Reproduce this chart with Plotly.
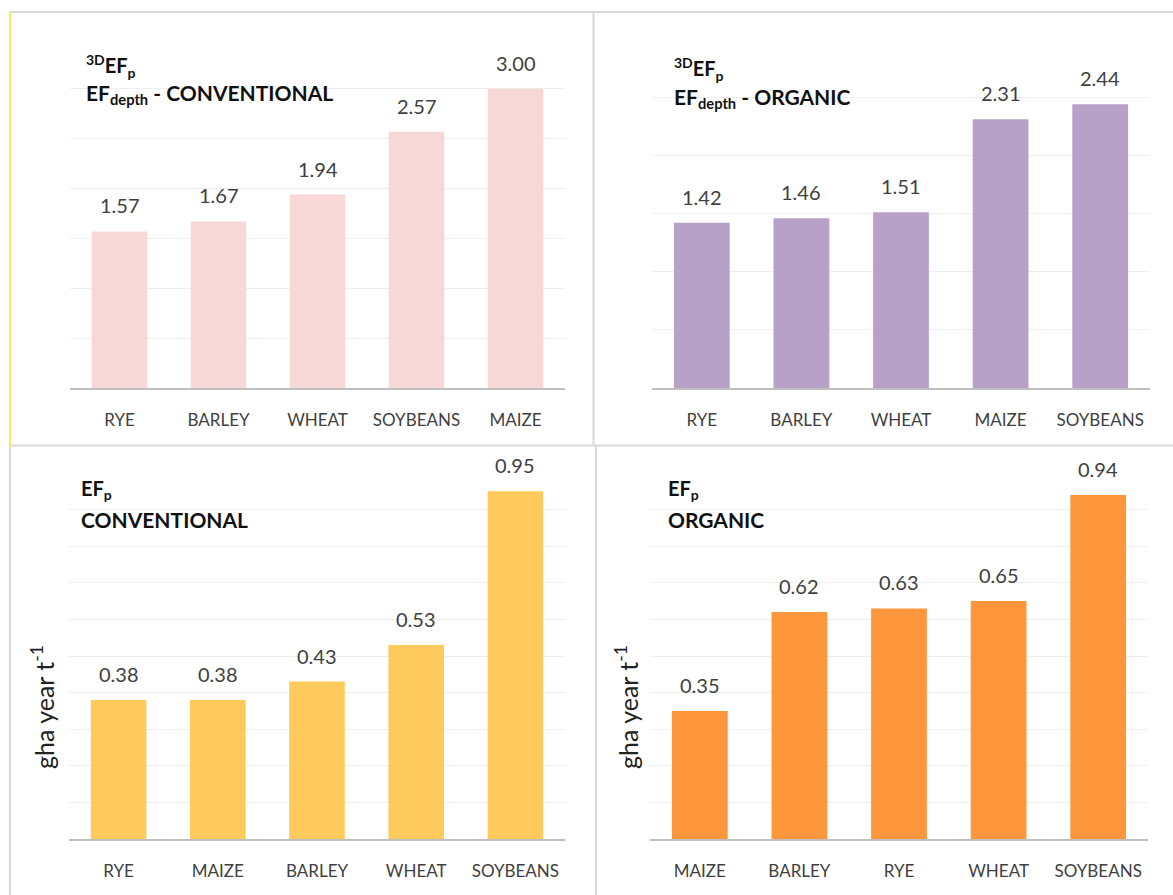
import plotly.graph_objects as go

W, H = 1173, 895

# ---------------- data ----------------
tl_cats = ["RYE", "BARLEY", "WHEAT", "SOYBEANS", "MAIZE"]
tl_vals = [1.57, 1.67, 1.94, 2.57, 3.00]

tr_cats = ["RYE", "BARLEY", "WHEAT", "MAIZE", "SOYBEANS"]
tr_vals = [1.42, 1.46, 1.51, 2.31, 2.44]

bl_cats = ["RYE", "MAIZE", "BARLEY", "WHEAT", "SOYBEANS"]
bl_vals = [0.38, 0.38, 0.43, 0.53, 0.95]

br_cats = ["MAIZE", "BARLEY", "RYE", "WHEAT", "SOYBEANS"]
br_vals = [0.35, 0.62, 0.63, 0.65, 0.94]

tl_title = ["<b><sup>3D</sup>EF<sub>p</sub></b>", "<b>EF<sub>depth</sub> - CONVENTIONAL</b>"]
tr_title = ["<b><sup>3D</sup>EF<sub>p</sub></b>", "<b>EF<sub>depth</sub> - ORGANIC</b>"]
bl_title = ["<b>EF<sub>p</sub></b>", "<b>CONVENTIONAL</b>"]
br_title = ["<b>EF<sub>p</sub></b>", "<b>ORGANIC</b>"]
y_unit = "gha year t<sup>-1</sup>"

# ---------------- styling ----------------
FONT = "Lato, 'Open Sans', sans-serif"
TXT = "#404040"
GRID = "#EEEEEE"
AXLINE = "#BFBFBF"
BORDER = "#D9D9D9"


def px(x):
    return x / W


def py(y):
    return 1 - y / H


panels = [
    # cats, vals, color, ymax, dtick, x-domain px, y-domain px, title, title px(x, y1, y2), ylabel x
    (tl_cats, tl_vals, "#F8D7D7", 3.5, 0.5, (70, 565), (39, 388), tl_title, (84, 66, 94), None),
    (tr_cats, tr_vals, "#B7A1C9", 3.0, 0.5, (652, 1150), (39, 388), tr_title, (672, 69, 98), None),
    (bl_cats, bl_vals, "#FFCA5C", 1.0, 0.1, (69, 565), (473, 839), bl_title, (79, 489, 519.5), 42),
    (br_cats, br_vals, "#FE963C", 1.0, 0.1, (650, 1148), (473, 839), br_title, (666, 489, 519.5), 626),
]

fig = go.Figure()
annotations = []
layout_axes = {}

for i, (cats, vals, color, ymax, dtick, xd, yd, title, tpos, ylab_x) in enumerate(panels, start=1):
    xa = "x" if i == 1 else f"x{i}"
    ya = "y" if i == 1 else f"y{i}"
    fig.add_trace(go.Bar(
        x=cats, y=vals, xaxis=xa, yaxis=ya,
        marker=dict(color=color, line=dict(width=0)),
        showlegend=False, hoverinfo="x+y",
    ))
    xkey = "xaxis" if i == 1 else f"xaxis{i}"
    ykey = "yaxis" if i == 1 else f"yaxis{i}"
    layout_axes[xkey] = dict(
        domain=[px(xd[0]), px(xd[1])], anchor=ya,
        showline=True, linecolor=AXLINE, linewidth=2,
        showgrid=False, ticks="", ticklabelstandoff=16,
        tickfont=dict(family=FONT, size=17, color=TXT),
        fixedrange=True,
    )
    layout_axes[ykey] = dict(
        domain=[py(yd[1]), py(yd[0])], anchor=xa,
        range=[0, ymax], dtick=dtick, tick0=0,
        showgrid=True, gridcolor=GRID, gridwidth=1,
        zeroline=False, showticklabels=False, showline=False,
        fixedrange=True,
    )
    # value labels
    for c, v in zip(cats, vals):
        annotations.append(dict(
            x=c, y=v, xref=xa, yref=ya, text=f"{v:.2f}", showarrow=False,
            yanchor="bottom", xanchor="center", yshift=12,
            font=dict(family=FONT, size=20, color=TXT),
        ))
    # panel titles
    annotations.append(dict(
        x=px(tpos[0]), y=py(tpos[1]), xref="paper", yref="paper", text=title[0],
        showarrow=False, xanchor="left", yanchor="middle",
        font=dict(family=FONT, size=20, color="#111111"),
    ))
    annotations.append(dict(
        x=px(tpos[0]), y=py(tpos[2]), xref="paper", yref="paper", text=title[1],
        showarrow=False, xanchor="left", yanchor="middle",
        font=dict(family=FONT, size=21, color="#111111"),
    ))
    if ylab_x is not None:
        annotations.append(dict(
            x=px(ylab_x), y=py(707), xref="paper", yref="paper", text=y_unit,
            showarrow=False, textangle=-90, xanchor="center", yanchor="middle",
            font=dict(family=FONT, size=25, color="#222222"),
        ))

shapes = []


def line(x0, y0, x1, y1, color=BORDER, width=2):
    shapes.append(dict(type="line", xref="paper", yref="paper",
                       x0=px(x0), y0=py(y0), x1=px(x1), y1=py(y1),
                       line=dict(color=color, width=width)))


line(10, 12, W, 12)
line(10, 445.5, W, 445.5)
line(593.5, 12, 593.5, 445.5)
line(596, 445.5, 596, H)
line(10, 447, 10, H)
line(10, 12, 10, 447, color="#F2EE60", width=2)

fig.update_layout(
    width=W, height=H,
    margin=dict(l=0, r=0, t=0, b=0),
    paper_bgcolor="white", plot_bgcolor="white",
    bargap=0.44,
    annotations=annotations,
    shapes=shapes,
    font=dict(family=FONT, color=TXT),
    **layout_axes,
)

fig.write_html("out.html")
